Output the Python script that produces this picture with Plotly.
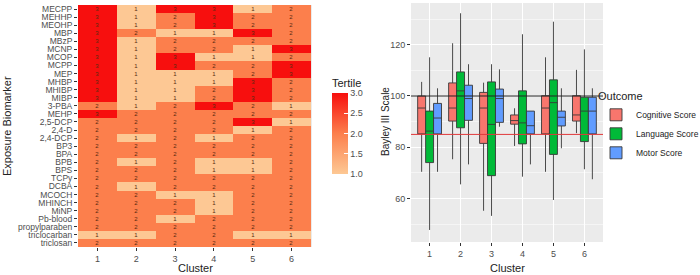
import plotly.graph_objects as go

biomarkers = ["MECPP", "MEHHP", "MEOHP", "MBP", "MBzP", "MCNP", "MCOP", "MCPP", "MEP", "MHBP",
              "MHIBP", "MIBP", "3-PBA", "MEHP", "2,5-DCP", "2,4-D", "2,4-DCP", "BP3", "BPA", "BPB",
              "BPS", "TCPy", "DCBA", "MCOCH", "MHINCH", "MiNP", "Pb-blood", "propylparaben",
              "triclocarban", "triclosan"]
clusters = [1, 2, 3, 4, 5, 6]
cluster1 = [3, 3, 3, 3, 3, 3, 3, 3, 3, 3, 3, 3, 2, 3, 2, 2, 2, 2, 2, 2, 2, 2, 2, 2, 2, 2, 2, 2, 1, 2]
cluster2 = [1, 1, 1, 2, 1, 1, 1, 1, 1, 1, 1, 1, 1, 2, 2, 2, 1, 2, 2, 1, 2, 2, 1, 2, 2, 2, 2, 2, 1, 2]
cluster3 = [3, 2, 2, 1, 2, 2, 3, 3, 1, 1, 1, 1, 2, 2, 2, 2, 2, 2, 2, 2, 2, 2, 2, 1, 2, 2, 1, 2, 2, 2]
cluster4 = [3, 3, 3, 1, 2, 2, 1, 2, 1, 1, 2, 2, 3, 2, 2, 2, 1, 2, 2, 1, 1, 2, 2, 1, 1, 1, 2, 2, 2, 2]
cluster5 = [1, 2, 2, 3, 2, 1, 1, 2, 2, 3, 3, 3, 2, 2, 3, 1, 2, 2, 2, 1, 1, 2, 2, 2, 2, 2, 2, 2, 1, 2]
cluster6 = [2, 2, 2, 2, 2, 3, 2, 3, 3, 2, 2, 2, 1, 2, 1, 2, 2, 2, 2, 2, 2, 2, 2, 2, 2, 2, 2, 2, 1, 2]

outcomes = ["Cognitive Score", "Language Score", "Motor Score"]
cog_upper = [105.5, 120.6, 105.2, 95.2, 115.1, 110.2]
cog_q3 = [100.0, 105.1, 101.4, 92.6, 100.1, 100.1]
cog_median = [95.3, 95.3, 95.3, 90.4, 95.3, 92.6]
cog_q1 = [85.2, 90.2, 81.5, 89.0, 85.2, 90.2]
cog_lower = [70.4, 75.3, 55.2, 80.5, 70.4, 85.5]

lang_upper = [115.1, 132.3, 112.4, 124.1, 129.0, 118.2]
lang_q3 = [94.1, 109.4, 105.5, 102.0, 106.3, 99.5]
lang_median = [86.3, 102.0, 88.9, 89.5, 97.4, 94.1]
lang_q1 = [74.0, 87.6, 68.9, 81.3, 77.2, 82.2]
lang_lower = [47.7, 65.5, 53.2, 68.5, 59.4, 71.4]

mot_upper = [103.0, 112.4, 110.4, 94.1, 103.0, 103.0]
mot_q3 = [97.1, 104.2, 102.7, 94.1, 94.1, 99.5]
mot_median = [91.4, 99.0, 99.0, 88.4, 91.7, 94.1]
mot_q1 = [85.2, 90.5, 89.7, 85.2, 88.3, 85.2]
mot_lower = [70.4, 73.3, 88.0, 73.3, 79.6, 67.5]

ref_mean = 100
ref_low = 85

FONT = "Liberation Sans, Arial, sans-serif"
GRAY = "#4d4d4d"
W, H = 700, 275
ML, MR, MT, MB = 78, 97, 3, 28
PW, PH = W - ML - MR, H - MT - MB


def px(x):
    return (x - ML) / PW


def py(y):
    return (H - MB - y) / PH


z = [list(r) for r in zip(cluster1, cluster2, cluster3, cluster4, cluster5, cluster6)]

fig = go.Figure()
fig.add_trace(go.Heatmap(
    z=z, x=clusters, y=biomarkers,
    zmin=1, zmax=3,
    colorscale=[[0, "#FDC894"], [0.5, "#FC7F4C"], [1, "#F70F0E"]],
    text=[[str(v) for v in r] for r in z], texttemplate="%{text}",
    textfont=dict(size=6, color="#5a2a10", family=FONT),
    xaxis="x", yaxis="y", hoverinfo="skip",
    colorbar=dict(
        title=dict(text="Tertile", font=dict(size=11, color="#222", family=FONT), side="top"),
        x=px(332), xanchor="left", y=py(174), yanchor="bottom",
        len=98, lenmode="pixels", thickness=16, outlinewidth=0, xpad=0, ypad=0,
        tickvals=[1.0, 1.5, 2.0, 2.5, 3.0], ticktext=["1.0", "1.5", "2.0", "2.5", "3.0"],
        ticks="inside", ticklen=4, tickcolor="white",
        tickfont=dict(size=9, color=GRAY, family=FONT),
    ),
))

box_sets = [
    (outcomes[0], "#F8766D", cog_lower, cog_q1, cog_median, cog_q3, cog_upper),
    (outcomes[1], "#00BA38", lang_lower, lang_q1, lang_median, lang_q3, lang_upper),
    (outcomes[2], "#619CFF", mot_lower, mot_q1, mot_median, mot_q3, mot_upper),
]
for name, col, lo, q1, med, q3, up in box_sets:
    fig.add_trace(go.Box(
        name=name, x=clusters, lowerfence=lo, q1=q1, median=med, q3=q3, upperfence=up,
        fillcolor=col, line=dict(color="#383838", width=0.9), whiskerwidth=0,
        xaxis="x2", yaxis="y2", hoverinfo="skip",
    ))

fig.add_shape(type="line", xref="x2 domain", yref="y2", x0=0, x1=1, y0=ref_mean, y1=ref_mean,
              line=dict(color="#222222", width=1), layer="above")
fig.add_shape(type="line", xref="x2 domain", yref="y2", x0=0, x1=1, y0=ref_low, y1=ref_low,
              line=dict(color="#E0393B", width=1), layer="above")

axis_common = dict(ticks="outside", ticklen=3, tickcolor="#333", showline=False, zeroline=False,
                   automargin=False, tickfont=dict(size=9, color=GRAY, family=FONT))

title_font = dict(size=11, color="#222", family=FONT)
annotations = [
    dict(text="Exposure Biomarker", x=px(7), y=py(126), textangle=-90),
    dict(text="Cluster", x=px(195), y=py(268)),
    dict(text="Cluster", x=px(507), y=py(268)),
    dict(text="Bayley III Scale", x=px(385), y=py(122), textangle=-90,
         font=dict(size=10, color="#222", family=FONT)),
]
for a in annotations:
    a.update(xref="paper", yref="paper", showarrow=False, xanchor="center", yanchor="middle")
    a.setdefault("font", title_font)

fig.update_layout(
    width=W, height=H,
    margin=dict(l=ML, r=MR, t=MT, b=MB, autoexpand=False),
    paper_bgcolor="white", plot_bgcolor="#EBEBEB",
    font=dict(family=FONT, size=10, color="#222"),
    boxmode="group", boxgap=0.23, boxgroupgap=0,
    annotations=annotations,
    xaxis=dict(domain=[0, px(312)], anchor="y", tickvals=clusters, range=[0.5, 6.53],
               showgrid=False, **axis_common),
    yaxis=dict(domain=[0, py(5)], anchor="x", autorange="reversed", showgrid=False,
               tickmode="array", tickvals=biomarkers,
               **{**axis_common, "tickfont": dict(size=8.5, color=GRAY, family=FONT)}),
    xaxis2=dict(domain=[px(411), 1.0], anchor="y2", tickvals=clusters, range=[0.4, 6.6],
                showgrid=True, gridcolor="white", gridwidth=1, **axis_common),
    yaxis2=dict(domain=[py(242), 1.0], anchor="x2", range=[43, 136.3],
                tickvals=[60, 80, 100, 120], showgrid=True, gridcolor="white", gridwidth=1,
                minor=dict(tickvals=[50, 70, 90, 110, 130], showgrid=True, gridcolor="#F5F5F5",
                           gridwidth=0.5, ticks=""),
                **axis_common),
    legend=dict(x=px(596), xanchor="left", y=py(86), yanchor="top",
                title=dict(text="Outcome", font=dict(size=11, color="#222", family=FONT)),
                font=dict(size=8.5, color="#222", family=FONT), bgcolor="rgba(0,0,0,0)",
                itemwidth=30, tracegroupgap=0),
)

fig.write_html("out.html", config={"displayModeBar": False},
               post_script="document.body.style.margin='0';")
